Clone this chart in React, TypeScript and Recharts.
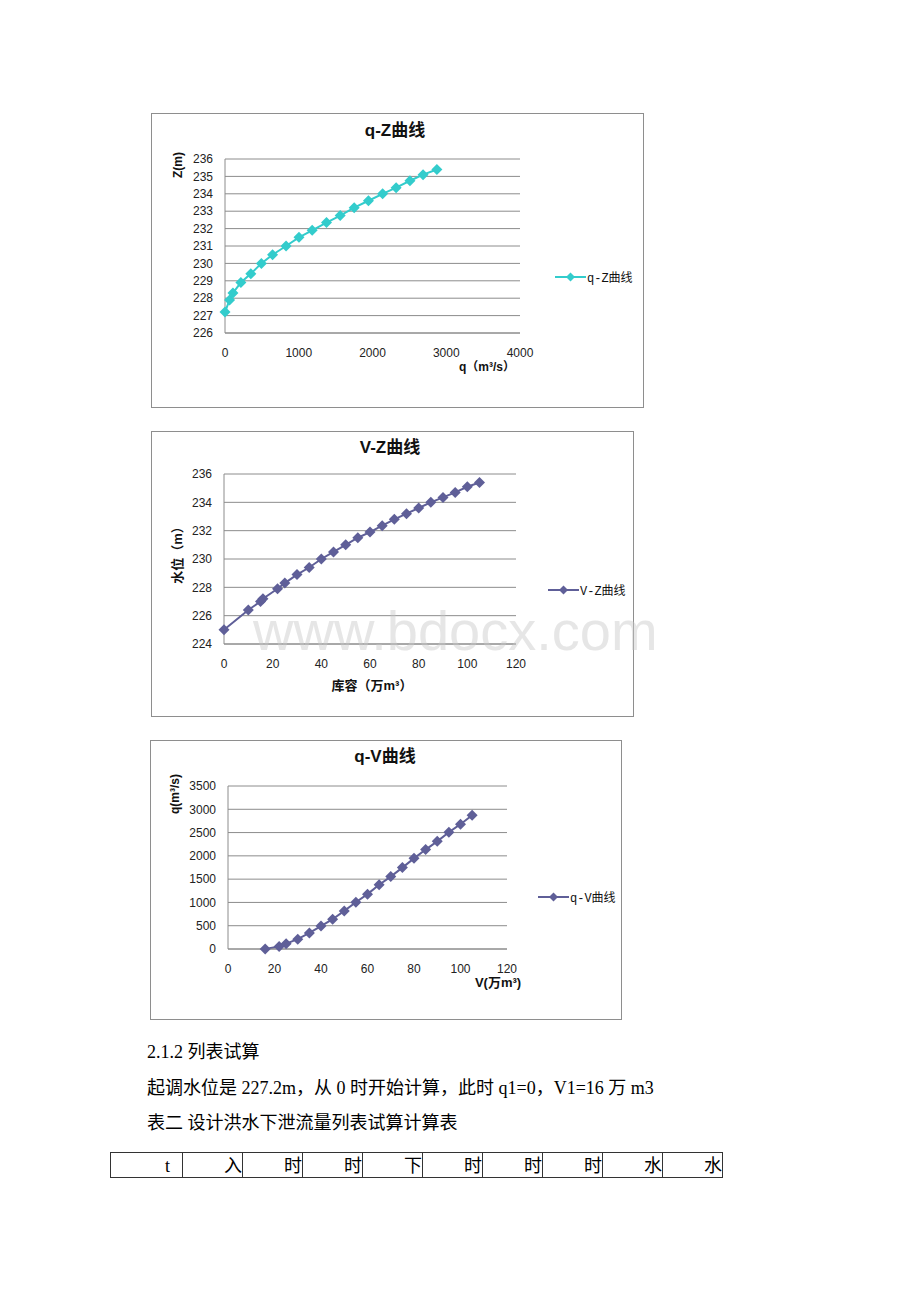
import React from "react"
import { LineChart, Line, XAxis, YAxis, CartesianGrid } from "recharts"

// q-Z curve (discharge vs water level)
const qzDischarge = [0, 62, 108, 215, 350, 493, 645, 828, 1003, 1182, 1376, 1562, 1752, 1945, 2137, 2320, 2508, 2686, 2873]
const qzLevel = [227.2, 227.9, 228.3, 228.9, 229.4, 230.0, 230.5, 231.0, 231.5, 231.9, 232.35, 232.75, 233.2, 233.6, 234.0, 234.35, 234.75, 235.1, 235.4]

// V-Z curve (storage vs water level)
const vzStorage = [0, 10, 15, 16, 22, 25, 30, 35, 40, 45, 50, 55, 60, 65, 70, 75, 80, 85, 90, 95, 100, 105]
const vzLevel = [225.0, 226.4, 227.0, 227.2, 227.9, 228.3, 228.9, 229.4, 230.0, 230.5, 231.0, 231.5, 231.9, 232.35, 232.8, 233.2, 233.6, 234.0, 234.35, 234.7, 235.1, 235.4]

// q-V curve (storage vs discharge)
const qvStorage = [16, 22, 25, 30, 35, 40, 45, 50, 55, 60, 65, 70, 75, 80, 85, 90, 95, 100, 105]
const qvDischarge = [0, 55, 115, 212, 345, 493, 640, 818, 1003, 1178, 1380, 1555, 1748, 1946, 2135, 2312, 2506, 2680, 2872]

const qzXTicks = [0, 1000, 2000, 3000, 4000]
const qzYTicks = [226, 227, 228, 229, 230, 231, 232, 233, 234, 235, 236]
const vzXTicks = [0, 20, 40, 60, 80, 100, 120]
const vzYTicks = [224, 226, 228, 230, 232, 234, 236]
const qvXTicks = [0, 20, 40, 60, 80, 100, 120]
const qvYTicks = [0, 500, 1000, 1500, 2000, 2500, 3000, 3500]

const CYAN = "#33cccc"
const SLATE = "#5f5f98"
const GRID = "#8c8c8c"
const CJK = "'Liberation Sans', 'Noto Sans CJK SC', sans-serif"

const toPoints = (xs: number[], ys: number[]) => xs.map((x, i) => ({ x, y: ys[i] }))

const diamond = (color: string, r: number) => (props: any) => {
    const { cx, cy, index } = props
    if (cx == null || cy == null) return <g key={index} />
    return (
        <path
            key={index}
            d={`M${cx},${cy - r}L${cx + r},${cy}L${cx},${cy + r}L${cx - r},${cy}Z`}
            fill={color}
        />
    )
}

const Txt = ({ x, y, size, bold, rotate, children, font }: any) => (
    <div
        style={{
            position: "absolute",
            left: x,
            top: y,
            transform: `translate(-50%, -50%)${rotate ? " rotate(-90deg)" : ""}`,
            whiteSpace: "nowrap",
            fontSize: size,
            fontWeight: bold ? "bold" : "normal",
            fontFamily: font || CJK,
            lineHeight: 1,
            color: "#111",
        }}
    >
        {children}
    </div>
)

interface PanelProps {
    left: number
    top: number
    width: number
    height: number
    plot: { left: number; top: number; width: number; height: number }
    data: { x: number; y: number }[]
    xDomain: [number, number]
    xTicks: number[]
    yDomain: [number, number]
    yTicks: number[]
    color: string
    title: string
    titlePos: [number, number]
    yLabel: string
    yLabelPos: [number, number]
    yLabelSize: number
    xLabel: string
    xLabelPos: [number, number]
    xLabelSize: number
    legendPos: [number, number]
    children?: React.ReactNode
}

function Panel(p: PanelProps) {
    const innerW = p.width - 2
    const innerH = p.height - 2
    const xAxisH = 30
    const margin = {
        top: p.plot.top,
        right: innerW - p.plot.left - p.plot.width,
        bottom: innerH - p.plot.top - p.plot.height - xAxisH,
        left: 0,
    }
    return (
        <div
            style={{
                position: "absolute",
                left: p.left,
                top: p.top,
                width: p.width,
                height: p.height,
                boxSizing: "border-box",
                border: "1px solid #8e8e8e",
                background: "#fff",
            }}
        >
            <div style={{ position: "absolute", left: 0, top: 0 }}>
                <LineChart width={innerW} height={innerH} data={p.data} margin={margin}>
                    <CartesianGrid vertical={false} stroke={GRID} strokeWidth={1} />
                    <XAxis
                        type="number"
                        dataKey="x"
                        domain={p.xDomain}
                        ticks={p.xTicks}
                        interval={0}
                        height={xAxisH}
                        tickLine={false}
                        tickSize={6}
                        tickMargin={9}
                        axisLine={{ stroke: GRID }}
                        tick={{ fill: "#222", fontSize: 12, fontFamily: "'Liberation Sans', sans-serif" }}
                    />
                    <YAxis
                        type="number"
                        domain={p.yDomain}
                        ticks={p.yTicks}
                        interval={0}
                        width={p.plot.left}
                        tickLine={false}
                        tickSize={6}
                        tickMargin={6}
                        axisLine={{ stroke: GRID }}
                        tick={{ fill: "#222", fontSize: 12, fontFamily: "'Liberation Sans', sans-serif" }}
                    />
                    <Line
                        dataKey="y"
                        stroke={p.color}
                        strokeWidth={2}
                        dot={diamond(p.color, 5.5)}
                        activeDot={false}
                        isAnimationActive={false}
                    />
                </LineChart>
            </div>
            <Txt x={p.titlePos[0]} y={p.titlePos[1]} size={17} bold>
                {p.title}
            </Txt>
            <Txt x={p.yLabelPos[0]} y={p.yLabelPos[1]} size={p.yLabelSize} bold rotate>
                {p.yLabel}
            </Txt>
            <Txt x={p.xLabelPos[0]} y={p.xLabelPos[1]} size={p.xLabelSize} bold>
                {p.xLabel}
            </Txt>
            <div
                style={{
                    position: "absolute",
                    left: p.legendPos[0],
                    top: p.legendPos[1] - 8,
                    height: 16,
                    display: "flex",
                    alignItems: "center",
                    whiteSpace: "nowrap",
                }}
            >
                <svg width={31} height={16}>
                    <line x1={0} y1={8} x2={31} y2={8} stroke={p.color} strokeWidth={2} />
                    <path d="M15.5,3.5L20,8L15.5,12.5L11,8Z" fill={p.color} />
                </svg>
                <span
                    style={{
                        marginLeft: 1,
                        fontSize: 12,
                        fontFamily: "'Liberation Mono', 'Noto Sans CJK SC', monospace",
                        color: "#111",
                    }}
                >
                    {p.title}
                </span>
            </div>
            {p.children}
        </div>
    )
}

const tableCells = ["t", "入", "时", "时", "下", "时", "时", "时", "水", "水"]
const SERIF = "'Liberation Serif', 'Noto Sans CJK SC', serif"

export default function App() {
    return (
        <div style={{ position: "absolute", left: 0, top: 0, width: 920, height: 1302, background: "#fff" }}>
            <Panel
                left={151}
                top={113}
                width={493}
                height={295}
                plot={{ left: 73, top: 45, width: 295, height: 174 }}
                data={toPoints(qzDischarge, qzLevel)}
                xDomain={[0, 4000]}
                xTicks={qzXTicks}
                yDomain={[226, 236]}
                yTicks={qzYTicks}
                color={CYAN}
                title="q-Z曲线"
                titlePos={[243, 16]}
                yLabel="Z(m)"
                yLabelPos={[26, 51]}
                yLabelSize={12}
                xLabel="q（m³/s）"
                xLabelPos={[335, 253]}
                xLabelSize={12}
                legendPos={[403, 163]}
            />
            <Panel
                left={151}
                top={431}
                width={483}
                height={286}
                plot={{ left: 72, top: 42, width: 292, height: 170 }}
                data={toPoints(vzStorage, vzLevel)}
                xDomain={[0, 120]}
                xTicks={vzXTicks}
                yDomain={[224, 236]}
                yTicks={vzYTicks}
                color={SLATE}
                title="V-Z曲线"
                titlePos={[238, 15]}
                yLabel="水位（m）"
                yLabelPos={[25, 120]}
                yLabelSize={13}
                xLabel="库容（万m³）"
                xLabelPos={[220, 253]}
                xLabelSize={13}
                legendPos={[396, 158]}
            >
                <div
                    style={{
                        position: "absolute",
                        left: 101,
                        top: 184,
                        fontSize: 56,
                        fontFamily: "'Liberation Sans', sans-serif",
                        color: "rgba(200,200,200,0.45)",
                        whiteSpace: "nowrap",
                        lineHeight: "30px",
                        pointerEvents: "none",
                    }}
                >
                    www.bdocx.com
                </div>
            </Panel>
            <Panel
                left={150}
                top={740}
                width={472}
                height={280}
                plot={{ left: 77, top: 45, width: 279, height: 163 }}
                data={toPoints(qvStorage, qvDischarge)}
                xDomain={[0, 120]}
                xTicks={qvXTicks}
                yDomain={[0, 3500]}
                yTicks={qvYTicks}
                color={SLATE}
                title="q-V曲线"
                titlePos={[234, 15]}
                yLabel="q(m³/s)"
                yLabelPos={[24, 53]}
                yLabelSize={12}
                xLabel="V(万m³)"
                xLabelPos={[347, 241]}
                xLabelSize={13}
                legendPos={[387, 156]}
            />

            <div style={{ position: "absolute", left: 147, top: 1043, fontSize: 18, lineHeight: "18px", fontFamily: SERIF, whiteSpace: "nowrap" }}>
                2.1.2 列表试算
            </div>
            <div style={{ position: "absolute", left: 147, top: 1079, fontSize: 18, lineHeight: "18px", fontFamily: SERIF, whiteSpace: "nowrap" }}>
                起调水位是 227.2m，从 0 时开始计算，此时 q1=0，V1=16 万 m3
            </div>
            <div style={{ position: "absolute", left: 147, top: 1114, fontSize: 18, lineHeight: "18px", fontFamily: SERIF, whiteSpace: "nowrap" }}>
                表二 设计洪水下泄流量列表试算计算表
            </div>

            <div
                style={{
                    position: "absolute",
                    left: 110,
                    top: 1152,
                    width: 613,
                    height: 26,
                    boxSizing: "border-box",
                    border: "1px solid #333",
                    display: "flex",
                }}
            >
                {tableCells.map((c, i) => (
                    <div
                        key={i}
                        style={{
                            flex: 1,
                            borderLeft: i === 0 ? "none" : "1px solid #333",
                            textAlign: "right",
                            paddingRight: i === 0 ? 12 : 0,
                            fontSize: 18,
                            lineHeight: "26px",
                            fontFamily: SERIF,
                            whiteSpace: "nowrap",
                        }}
                    >
                        {c}
                    </div>
                ))}
            </div>
        </div>
    )
}
